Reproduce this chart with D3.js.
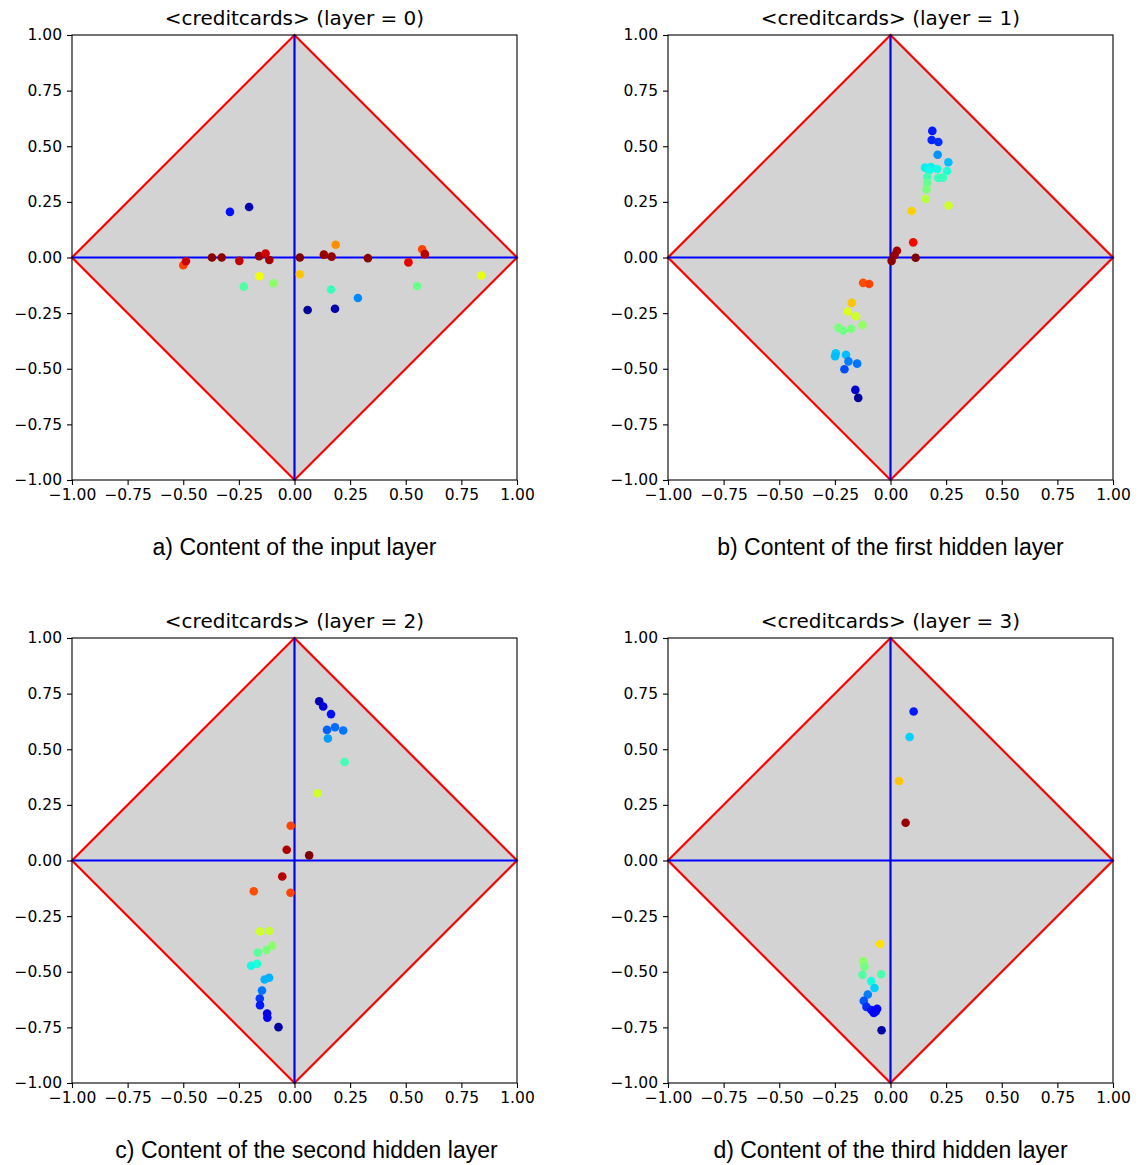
<!DOCTYPE html>
<html>
<head>
<meta charset="utf-8">
<script src="https://cdn.jsdelivr.net/npm/d3@7"></script>
<style>
  body { margin: 0; background: #fff; }
  svg { display: block; }
  .tick text { font-family: "DejaVu Sans", sans-serif; font-size: 15.5px; fill: #000; }
  .title { font-family: "DejaVu Sans", sans-serif; font-size: 20px; }
  .caption { font-family: "Liberation Sans", Arial, sans-serif; font-size: 23px; }
</style>
</head>
<body>
<svg id="chart"></svg>
<script>
const width = 1147;
const height = 1165;

// [x, y, colour value 0..1 on jet]
const layer0 = [
  [-0.29, 0.205, 0.14], [-0.204, 0.227, 0.04], [-0.50, -0.035, 0.84], [-0.488, -0.017, 0.93],
  [-0.371, 0.0, 0.99], [-0.327, 0.0, 0.99], [-0.248, -0.015, 0.94], [-0.159, 0.006, 0.98],
  [-0.13, 0.018, 0.93], [-0.113, -0.011, 0.97], [-0.158, -0.084, 0.64], [-0.096, -0.116, 0.52],
  [-0.228, -0.131, 0.45], [0.024, 0.0, 1.0], [0.024, -0.075, 0.70], [0.185, 0.057, 0.76],
  [0.132, 0.013, 0.98], [0.167, 0.004, 0.98], [0.164, -0.144, 0.42], [0.059, -0.236, 0.02],
  [0.182, -0.23, 0.04], [0.285, -0.182, 0.26], [0.33, -0.003, 0.99], [0.512, -0.022, 0.91],
  [0.574, 0.037, 0.84], [0.586, 0.015, 0.95], [0.551, -0.128, 0.48], [0.839, -0.081, 0.63]
];
const layer1 = [
  [0.188, 0.569, 0.15], [0.185, 0.528, 0.16], [0.215, 0.519, 0.17], [0.212, 0.462, 0.27],
  [0.26, 0.428, 0.31], [0.155, 0.404, 0.36], [0.182, 0.407, 0.36], [0.173, 0.392, 0.37],
  [0.21, 0.398, 0.37], [0.254, 0.389, 0.39], [0.215, 0.357, 0.42], [0.236, 0.359, 0.42],
  [0.165, 0.362, 0.43], [0.165, 0.336, 0.47], [0.162, 0.306, 0.50], [0.158, 0.263, 0.57],
  [0.261, 0.234, 0.60], [0.095, 0.209, 0.69], [0.102, 0.068, 0.90], [0.029, 0.03, 0.97],
  [0.018, 0.01, 0.98], [0.005, -0.015, 0.99], [0.113, -0.001, 1.0],
  [-0.123, -0.114, 0.83], [-0.096, -0.119, 0.84], [-0.174, -0.204, 0.70], [-0.192, -0.243, 0.62],
  [-0.155, -0.264, 0.60], [-0.234, -0.315, 0.50], [-0.213, -0.329, 0.49], [-0.177, -0.32, 0.50],
  [-0.126, -0.303, 0.53], [-0.246, -0.43, 0.32], [-0.249, -0.444, 0.31], [-0.2, -0.437, 0.31],
  [-0.189, -0.467, 0.25], [-0.15, -0.477, 0.24], [-0.207, -0.502, 0.20], [-0.158, -0.595, 0.07],
  [-0.145, -0.631, 0.02]
];
const layer2 = [
  [0.111, 0.716, 0.04], [0.129, 0.692, 0.08], [0.164, 0.658, 0.14], [0.146, 0.587, 0.22],
  [0.182, 0.599, 0.23], [0.219, 0.584, 0.24], [0.15, 0.548, 0.28], [0.225, 0.443, 0.43],
  [0.104, 0.302, 0.60], [-0.017, 0.156, 0.84], [-0.035, 0.048, 0.96], [0.066, 0.023, 1.0],
  [-0.055, -0.072, 0.95], [-0.183, -0.138, 0.83], [-0.018, -0.145, 0.84], [-0.155, -0.319, 0.60],
  [-0.113, -0.317, 0.59], [-0.10, -0.383, 0.52], [-0.126, -0.402, 0.50], [-0.165, -0.414, 0.46],
  [-0.168, -0.464, 0.39], [-0.195, -0.473, 0.37], [-0.114, -0.527, 0.30], [-0.134, -0.535, 0.30],
  [-0.146, -0.584, 0.24], [-0.156, -0.62, 0.18], [-0.155, -0.65, 0.15], [-0.123, -0.688, 0.09],
  [-0.122, -0.706, 0.10], [-0.072, -0.749, 0.03]
];
const layer3 = [
  [0.104, 0.67, 0.15], [0.086, 0.555, 0.33], [0.038, 0.357, 0.70], [0.068, 0.17, 0.98],
  [-0.047, -0.375, 0.67], [-0.123, -0.453, 0.52], [-0.117, -0.477, 0.49], [-0.126, -0.514, 0.45],
  [-0.042, -0.511, 0.44], [-0.087, -0.542, 0.38], [-0.072, -0.573, 0.33], [-0.102, -0.602, 0.25],
  [-0.12, -0.631, 0.21], [-0.108, -0.658, 0.17], [-0.086, -0.672, 0.14], [-0.066, -0.678, 0.13],
  [-0.06, -0.666, 0.12], [-0.075, -0.685, 0.12], [-0.04, -0.763, 0.03]
];

const layers = [layer0, layer1, layer2, layer3];
const titles = ["<creditcards> (layer = 0)", "<creditcards> (layer = 1)",
                "<creditcards> (layer = 2)", "<creditcards> (layer = 3)"];
const captions = ["a) Content of the input layer", "b) Content of the first hidden layer",
                  "c) Content of the second hidden layer", "d) Content of the third hidden layer"];
const tickValues = [-1, -0.75, -0.5, -0.25, 0, 0.25, 0.5, 0.75, 1];
const diamond = [[0, 1], [1, 0], [0, -1], [-1, 0]];

// matplotlib jet
const jetR = d3.scaleLinear().domain([0, 0.35, 0.66, 0.89, 1]).range([0, 0, 1, 1, 0.5]).clamp(true);
const jetG = d3.scaleLinear().domain([0, 0.125, 0.375, 0.64, 0.91, 1]).range([0, 0, 1, 1, 0, 0]).clamp(true);
const jetB = d3.scaleLinear().domain([0, 0.11, 0.34, 0.65, 1]).range([0.5, 1, 1, 0, 0]).clamp(true);
const jet = t => d3.rgb(jetR(t) * 255, jetG(t) * 255, jetB(t) * 255).toString();

const svg = d3.select("#chart").attr("width", width).attr("height", height);

const size = 445;
const lefts = [72, 668];
const tops = [35, 638];
const captionShift = [0, 0, 12, 0];
const fmt = d => d3.format(".2f")(d).replace("-", "\u2212");

layers.forEach((data, i) => {
  const ox = lefts[i % 2], oy = tops[Math.floor(i / 2)];
  const x = d3.scaleLinear().domain([-1, 1]).range([0, size]);
  const y = d3.scaleLinear().domain([-1, 1]).range([size, 0]);
  const g = svg.append("g").attr("transform", `translate(${ox},${oy})`);

  g.append("polygon")
    .attr("points", diamond.map(p => [x(p[0]), y(p[1])].join(",")).join(" "))
    .attr("fill", "#d3d3d3")
    .attr("stroke", "red")
    .attr("stroke-width", 2.2)
    .attr("stroke-linejoin", "miter");

  g.append("line").attr("x1", x(-1)).attr("x2", x(1)).attr("y1", y(0)).attr("y2", y(0))
    .attr("stroke", "blue").attr("stroke-width", 2.2);
  g.append("line").attr("x1", x(0)).attr("x2", x(0)).attr("y1", y(-1)).attr("y2", y(1))
    .attr("stroke", "blue").attr("stroke-width", 2.2);

  g.selectAll("circle").data(data).enter().append("circle")
    .attr("cx", d => x(d[0]))
    .attr("cy", d => y(d[1]))
    .attr("r", 4.3)
    .attr("fill", d => jet(d[2]));

  const xAxis = g.append("g").attr("transform", `translate(0,${size})`)
    .call(d3.axisBottom(x).tickValues(tickValues).tickFormat(fmt).tickSizeOuter(0).tickSize(5).tickPadding(4));
  const yAxis = g.append("g")
    .call(d3.axisLeft(y).tickValues(tickValues).tickFormat(fmt).tickSizeOuter(0).tickSize(5).tickPadding(5));
  [xAxis, yAxis].forEach(a => {
    a.select(".domain").remove();
    a.selectAll(".tick line").attr("stroke", "#000").attr("stroke-width", 1.1);
  });

  g.append("rect").attr("width", size).attr("height", size)
    .attr("fill", "none").attr("stroke", "#000").attr("stroke-width", 1.1);

  g.append("text").attr("class", "title")
    .attr("x", size / 2).attr("y", -10)
    .attr("text-anchor", "middle")
    .text(titles[i]);

  g.append("text").attr("class", "caption")
    .attr("x", size / 2 + captionShift[i]).attr("y", size + 75)
    .attr("text-anchor", "middle")
    .text(captions[i]);
});
</script>
</body>
</html>
